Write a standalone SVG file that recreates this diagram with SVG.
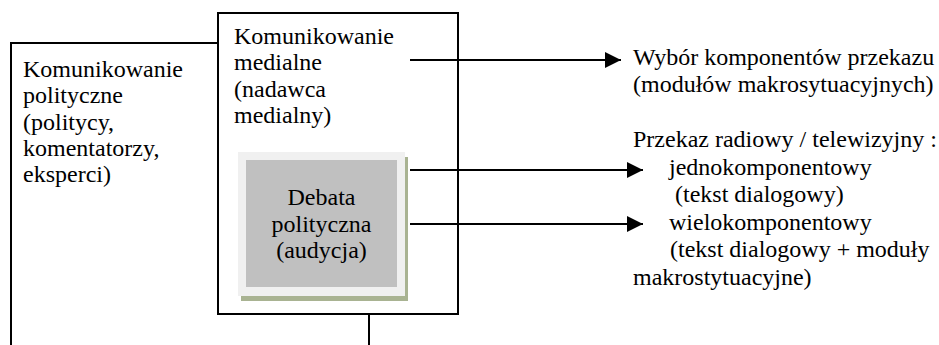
<svg xmlns="http://www.w3.org/2000/svg" width="939" height="345" viewBox="0 0 939 345">
  <style>
    text { font-family: 'Liberation Serif', 'Times New Roman', Times, serif; font-size: 24px; fill: #000; }
    .c { text-anchor: middle; }
    .frame { fill: none; stroke: #000; stroke-width: 2; }
    .conn { stroke: #000; stroke-width: 2; fill: none; }
  </style>
  <defs>
    <marker id="arrow" markerUnits="userSpaceOnUse" markerWidth="17" markerHeight="16" refX="16" refY="8" orient="auto">
      <path d="M0,0 L16,8 L0,16 Z" fill="#000"/>
    </marker>
  </defs>

  <rect width="939" height="345" fill="#fff"/>

  <!-- political communication frame (open at the bottom) -->
  <g id="polityczne">
    <path class="frame" d="M11,345 V43 H218"/>
    <text x="23" y="77">Komunikowanie</text>
    <text x="23" y="103">polityczne</text>
    <text x="23" y="129.5">(politycy,</text>
    <text x="23" y="156">komentatorzy,</text>
    <text x="23" y="182">eksperci)</text>
  </g>

  <!-- media communication box -->
  <g id="medialne">
    <rect class="frame" x="218" y="13" width="240" height="301"/>
    <text x="234" y="43.5">Komunikowanie</text>
    <text x="234" y="70">medialne</text>
    <text x="234" y="96.5">(nadawca</text>
    <text x="234" y="123">medialny)</text>
  </g>

  <!-- debate (broadcast) block with drop shadow -->
  <g id="debata">
    <rect x="241" y="157" width="167" height="144" fill="#a9b392"/>
    <rect x="238" y="152" width="167" height="144" fill="#f0f0f0"/>
    <rect x="246" y="160" width="151" height="127" fill="#c0c0c0"/>
    <text class="c" x="321.5" y="205">Debata</text>
    <text class="c" x="321.5" y="231.5">polityczna</text>
    <text class="c" x="321.5" y="258">(audycja)</text>
  </g>

  <!-- output descriptions -->
  <g id="wybor">
    <text x="633" y="65">Wybór komponentów przekazu</text>
    <text x="633" y="92">(modułów makrosytuacyjnych)</text>
  </g>

  <g id="przekaz">
    <text x="633" y="147">Przekaz radiowy / telewizyjny :</text>
    <text x="669" y="174.5">jednokomponentowy</text>
    <text x="675" y="202">(tekst dialogowy)</text>
    <text x="669" y="229.5">wielokomponentowy</text>
    <text x="670" y="257">(tekst dialogowy + moduły</text>
    <text x="633" y="285">makrostytuacyjne)</text>
  </g>

  <g id="connectors">
    <line class="conn" x1="410" y1="60" x2="621" y2="60" marker-end="url(#arrow)"/>
    <line class="conn" x1="410" y1="170" x2="643" y2="170" marker-end="url(#arrow)"/>
    <line class="conn" x1="410" y1="224" x2="643" y2="224" marker-end="url(#arrow)"/>
    <line class="conn" x1="369" y1="314" x2="369" y2="345"/>
  </g>
</svg>
